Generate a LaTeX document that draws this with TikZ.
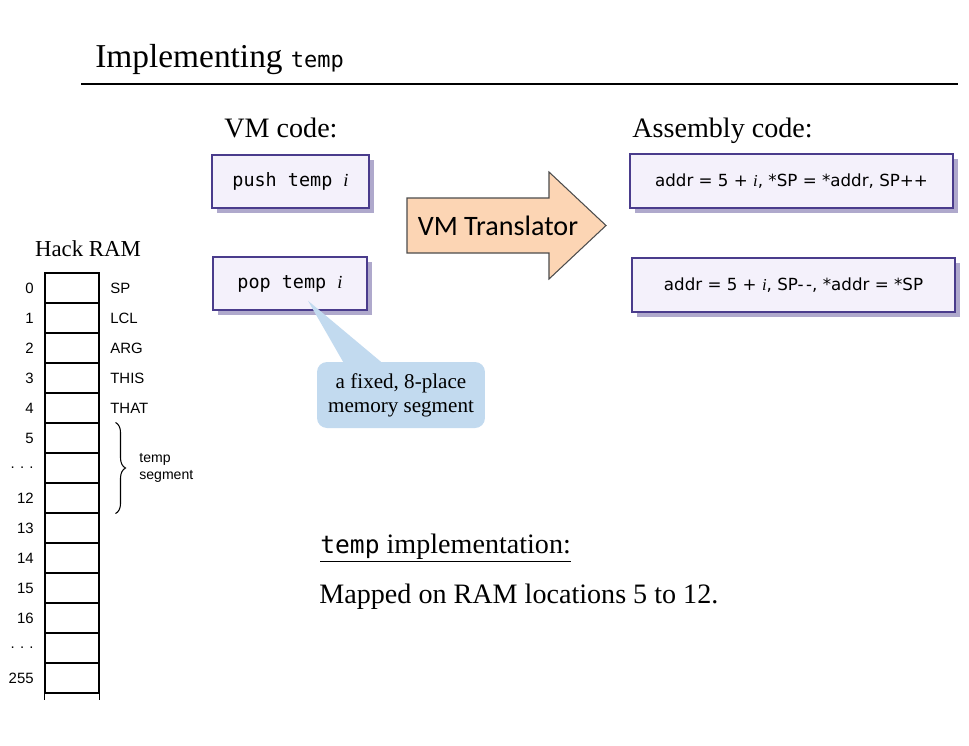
\documentclass[tikz,border=0pt]{standalone}
\usepackage{fontspec}
\setmainfont{Liberation Serif}
\setsansfont{DejaVu Sans}
\setmonofont{DejaVu Sans Mono}
\newfontfamily\ramfont{Liberation Sans}
\newfontfamily\calfont{Carlito}
\usetikzlibrary{shadows}
\usetikzlibrary{decorations.pathreplacing}

\definecolor{boxfill}{HTML}{F4F1FB}
\definecolor{boxline}{HTML}{4A3C8C}
\definecolor{arrowfill}{HTML}{FCD5B4}
\definecolor{callfill}{HTML}{C2DAEF}

\newcommand{\ramdots}{.\kern3pt.\kern3pt.}

\begin{document}
\begin{tikzpicture}[x=0.02cm, y=-0.02cm,
		codebox/.style={draw=boxline, fill=boxfill, line width=0.8pt, minimum height=1.06cm,
			inner sep=0pt, drop shadow={fill=boxline!80, opacity=0.55, shadow xshift=3pt, shadow yshift=-3pt}},
		ramcell/.style={draw, line width=0.6pt, minimum width=1.08cm, minimum height=0.6cm, inner sep=0pt},
		ramtext/.style={font=\ramfont\fontsize{8.5}{10}\selectfont, inner sep=0pt}]
		
		\useasboundingbox (0,0) rectangle (969,745);
		
		% Title
		\node[anchor=base west, inner sep=0pt, font=\fontsize{19}{23}\selectfont] (title) at (95,67)
			{Implementing {\ttfamily\fontsize{12.5}{15}\selectfont temp}};
		\draw[line width=1.1pt] (81,84) -- (958,84);
		
		% VM code
		\node[anchor=base west, inner sep=0pt, font=\fontsize{16}{19}\selectfont] (vmlabel) at (224,137) {VM code:};
		\node[codebox, minimum width=3.14cm, font=\ttfamily\fontsize{10.5}{13}\selectfont] (push) at (290.5,181.5)
			{push temp {\rmfamily\itshape i}};
		\node[codebox, minimum width=3.08cm, font=\ttfamily\fontsize{10.5}{13}\selectfont] (pop) at (290,283.5)
			{pop temp {\rmfamily\itshape i}};
		
		% Translator arrow
		\draw[fill=arrowfill, draw=black!70, line width=0.6pt]
			(407,198) -- (549,198) -- (549,172) -- (606,225.5) -- (549,279) -- (549,253) -- (407,253) -- cycle;
		\node[font=\calfont\fontsize{16}{19}\selectfont] (translator) at (498,226) {VM Translator};
		
		% Assembly code
		\node[anchor=base west, inner sep=0pt, font=\fontsize{16}{19}\selectfont] (asmlabel) at (632,137) {Assembly code:};
		\node[codebox, minimum width=6.46cm, minimum height=1.08cm, font=\sffamily\fontsize{9.5}{12}\selectfont] (asmpush) at (791.5,181)
			{addr = 5 + {\rmfamily\itshape i}, *SP = *addr, SP++};
		\node[codebox, minimum width=6.46cm, minimum height=1.08cm, font=\sffamily\fontsize{9.5}{12}\selectfont] (asmpop) at (793.5,285)
			{addr = 5 + {\rmfamily\itshape i}, SP-\kern1.5pt-, *addr = *SP};
		
		% Callout
		\node[fill=callfill, rounded corners=0.2cm, minimum width=3.36cm, minimum height=1.32cm, align=center,
			font=\fontsize{12}{13.5}\selectfont] (note) at (401,395) {a fixed, 8-place\\memory segment};
		\coordinate (notetip) at ([xshift=0.36cm, yshift=0.2cm]pop.south);
		\fill[callfill] ([xshift=-1.12cm, yshift=-2pt]note.north) -- (notetip) -- ([xshift=-0.32cm, yshift=-2pt]note.north) -- cycle;
		
		% Hack RAM
		\node[font=\fontsize{13}{15}\selectfont, anchor=base] (ramtitle) at (88,256) {Hack RAM};
		\foreach \r/\n in {0/0,1/1,2/2,3/3,4/4,5/5,6/\ramdots,7/12,8/13,9/14,10/15,11/16,12/\ramdots,13/255} {
			\node[ramcell] (cell\r) at (72,288+30*\r) {};
			\node[ramtext, anchor=east] (num\r) at (34,288+30*\r) {\n};
		}
		\draw[line width=0.6pt] (cell13.south west) -- ++(0,6);
		\draw[line width=0.6pt] (cell13.south east) -- ++(0,6);
		\foreach \r/\reg in {0/SP,1/LCL,2/ARG,3/THIS,4/THAT}
			\node[ramtext, anchor=west] (reg\r) at (110,288+30*\r) {\reg};
		
		% temp segment brace
		\draw[decorate, decoration={brace, amplitude=0.2cm}, line width=0.6pt]
			([xshift=0.32cm]cell5.north east) -- ([xshift=0.32cm]cell7.south east);
		\node[ramtext, anchor=west, align=left, font=\ramfont\fontsize{8}{9.5}\selectfont] (tempseg) at (139,468) {temp\\segment};
		
		% temp implementation
		\node[anchor=base west, inner sep=0pt, font=\fontsize{16}{19}\selectfont] (implhead) at (320,553)
			{\underline{{\ttfamily\fontsize{14}{17}\selectfont temp} implementation:}};
		\node[anchor=base west, inner sep=0pt, font=\fontsize{16}{19}\selectfont] (impltext) at (319,603)
			{Mapped on RAM locations 5 to 12.};
		
	\end{tikzpicture}
\end{document}
